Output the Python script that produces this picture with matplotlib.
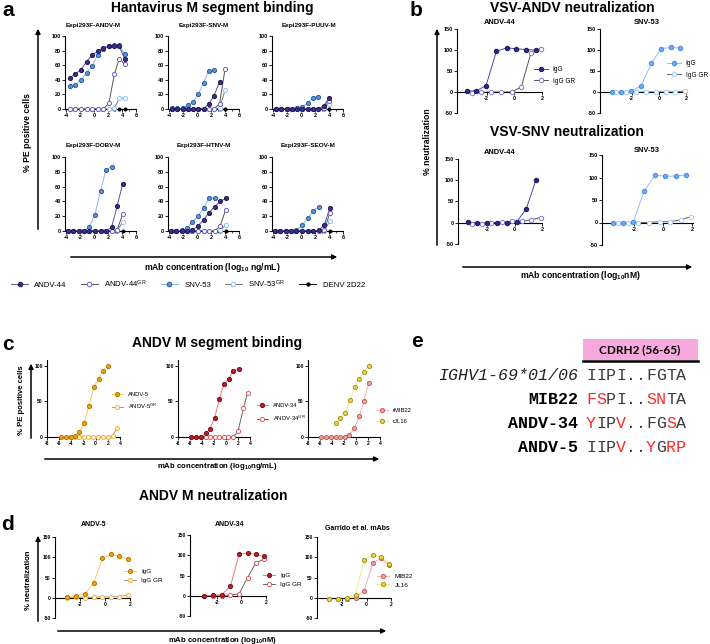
import matplotlib
matplotlib.use('Agg')
import matplotlib.pyplot as plt
from matplotlib.lines import Line2D
from matplotlib.patches import Rectangle, FancyArrowPatch

plt.rcParams['font.family'] = ['Liberation Sans', 'DejaVu Sans']
plt.rcParams['mathtext.default'] = 'regular'
plt.rcParams['axes.unicode_minus'] = False

# ---------------- data ----------------
# a: binding to Expi293F cells, x = log10 ng/mL
a_x1 = [-3.5, -2.7, -1.9, -1.1, -0.3, 0.5, 1.3, 2.1, 2.9, 3.6, 4.4]
a_x2 = [-3.6, -2.85, -2.1, -1.35, -0.6, 0.15, 0.9, 1.65, 2.4, 3.2, 4.0]
a_x3 = [-3.8, -3.0, -2.2, -1.45, -0.7, 0.1, 0.9, 1.7, 2.5, 3.3, 4.1]

andvm_a44 = [43, 48, 54, 65, 74, 79, 84, 86, 86, 86, 68]
andvm_a44gr = [0, 0, 0, 0, 0, 0, 0, 8, 48, 69, 61]
andvm_s53 = [31, 33, 40, 49, 59, 74, 82, 86, 87, 87, 75]
andvm_s53gr = [0, 0, 0, 0, 0, 0, 0, 0, 1, 15, 15]
andvm_denv = [0, 0, 0, 0, 0, 0, 0, 0, 0, 0, 0]

snvm_a44 = [0, 0, 0, 0, 0, 0, 0, 7, 18, 37]
snvm_a44gr = [0, 0, 0, 0, 0, 0, 0, 0, 0, 7, 55]
snvm_s53 = [1, 1, 1, 5, 10, 20, 36, 52, 54]
snvm_s53gr = [0, 0, 0, 0, 0, 0, 0, 0, 0, 1, 26]
snvm_denv = [0, 0, 0, 0, 0, 0, 0, 0, 0, 0, 0]

puuvm_a44 = [0, 0, 0, 0, 0, 0, 0, 0, 0, 4, 15]
puuvm_a44gr = [0, 0, 0, 0, 0, 0, 0, 0, 0, 2, 11]
puuvm_s53 = [0, 0, 0, 0, 1, 3, 8, 15, 17]
puuvm_s53gr = [0, 0, 0, 0, 0, 0, 0, 0, 0, 1, 7]
puuvm_denv = [0, 0, 0, 0, 0, 0, 0, 0, 0, 0, 0]

dobvm_a44 = [0, 0, 0, 0, 0, 0, 0, 0, 5, 34, 64]
dobvm_a44gr = [0, 0, 0, 0, 0, 0, 0, 0, 0, 2, 23]
dobvm_s53 = [0, 0, 0, 0, 6, 22, 54, 83, 87]
dobvm_s53gr = [0, 0, 0, 0, 0, 0, 0, 0, 0, 1, 12]
dobvm_denv = [0, 0, 0, 0, 0, 0, 0, 0, 0, 0, 0]

htnvm_a44 = [0, 0, 0, 0, 1, 7, 15, 25, 33, 40, 44]
htnvm_a44gr = [0, 0, 0, 0, 0, 0, 0, 0, 0, 7, 29]
htnvm_s53 = [0, 0, 1, 4, 12, 20, 31, 45, 45]
htnvm_s53gr = [0, 0, 0, 0, 0, 0, 0, 0, 0, 1, 8]
htnvm_denv = [0, 0, 0, 0, 0, 0, 0, 0, 0, 0, 0]

seovm_a44 = [0, 0, 0, 0, 0, 0, 0, 0, 1, 8, 31]
seovm_a44gr = [0, 0, 0, 0, 0, 0, 0, 0, 0, 1, 24]
seovm_s53 = [0, 0, 0, 0, 1, 8, 17, 27, 33]
seovm_s53gr = [0, 0, 0, 0, 0, 0, 0, 0, 0, 1, 13]
seovm_denv = [0, 0, 0, 0, 0, 0, 0, 0, 0, 0, 0]

a_titles = ['Expi293F-ANDV-M', 'Expi293F-SNV-M', 'Expi293F-PUUV-M',
            'Expi293F-DOBV-M', 'Expi293F-HTNV-M', 'Expi293F-SEOV-M']
a_names = ['ANDV-44', 'ANDV-44$^{GR}$', 'SNV-53', 'SNV-53$^{GR}$', 'DENV 2D22']

# b: VSV neutralization, x = log10 nM
b_x = [-3.45, -2.75, -2.05, -1.3, -0.55, 0.15, 0.85, 1.55]
b_xgr = [-3.1, -2.4, -1.7, -0.95, -0.2, 0.5, 1.2, 1.9]
vandv_a44_igg = [2, 3, 15, 97, 105, 103, 101, 100]
vandv_a44_gr = [-2, -1, 0, 0, 0, 12, 93, 103]
vandv_s53_igg = [-1, 0, 2, 15, 68, 103, 106, 105]
vandv_s53_gr = [0, 0, -1, 0, 0, 0, 0, 3]
vsnv_a44_igg = [2, -1, -1, -1, -1, 2, 33, 100]
vsnv_a44_gr = [-2, -2, 0, 2, 3, 3, 7, 12]
vsnv_s53_igg = [0, -2, 1, 70, 105, 103, 103, 106]
vsnv_s53_gr = [-2, -1, 0, 0, 2, 2, 6, 13]

# c: ANDV M binding, x = log10 ng/mL
c_a5_x = [-5.7, -4.9, -4.1, -3.4, -2.7, -1.9, -1.1, -0.3, 0.5, 1.2, 2.0]
c_a5 = [0, 0, 0, 2, 7, 20, 44, 70, 82, 93, 99]
c_a5gr_x = [-4.2, -3.4, -2.7, -1.9, -1.2, -0.4, 0.4, 1.2, 2.0, 2.8, 3.5]
c_a5gr = [0, 0, 0, 0, 0, 0, 0, 0, 0, 2, 13]
c_a34_x = [-5.9, -5.0, -4.2, -3.4, -2.7, -1.9, -1.1, -0.4, 0.5, 1.2, 2.1]
c_a34 = [0, 0, 0, 5, 11, 27, 53, 74, 82, 93, 95]
c_a34gr_x = [-4.2, -3.4, -2.7, -1.9, -1.1, -0.4, 0.4, 1.2, 2.0, 2.9, 3.6]
c_a34gr = [0, 0, 0, 0, 0, 0, 0, 0, 8, 40, 62]
c_jl16_x = [-3.4, -2.6, -1.85, -1.0, -0.2, 0.55, 1.3, 2.1]
c_jl16 = [20, 27, 34, 52, 70, 82, 91, 100]
c_mib22_x = [-5.9, -5.0, -4.2, -3.4, -2.6, -1.85, -1.1, -0.3, 0.55, 1.3, 2.1]
c_mib22 = [0, 0, 0, 0, 0, 0, 3, 12, 29, 50, 76]

# d: ANDV M neutralization, x = log10 nM
d_x = [-3.05, -2.3, -1.6, -0.9, -0.2, 0.5, 1.15, 1.85]
d_a5_igg = [1, 4, 10, 37, 98, 107, 102, 95]
d_a5_gr = [0, 3, 0, 2, 2, 2, 3, 7]
d_a34_igg = [0, 1, 3, 24, 102, 106, 102, 97]
d_a34_gr = [0, 0, 0, 2, 4, 45, 80, 91]
d_jl16 = [-2, -2, 0, 8, 94, 106, 101, 84]
d_mib22 = [-3, -3, -2, -1, 17, 85, 97, 80]

# e: CDRH2 alignment
seq_names = ['IGHV1-69*01/06', 'MIB22', 'ANDV-34', 'ANDV-5']
seq_text = ['IIPI..FGTA', 'FSPI..SNTA', 'YIPV..FGSA', 'IIPV..YGRP']
seq_mut = ['0000000000', '1100001100', '1001000010', '0001001011']

# ---------------- styles ----------------
S_A44 = dict(fc='#3b2f80', ec='#231a5c', lc='#5c4fa3', op=False)
S_A44GR = dict(fc='white', ec='#6e62bb', lc='#555555', op=True)
S_S53 = dict(fc='#5a93de', ec='#2f5e9e', lc='#8ab8ee', op=False)
S_S53GR = dict(fc='white', ec='#92c0f5', lc='#777777', op=True)
S_DENV = dict(fc='black', ec='black', lc='black', op=False)
S_BA44 = dict(fc='#2c2a80', ec='#1c1a60', lc='#4d48a3', op=False)
S_BA44GR = dict(fc='white', ec='#8279c8', lc='#555555', op=True)
S_BS53 = dict(fc='#6aaaf6', ec='#4a8ce0', lc='#8cc0f8', op=False)
S_BS53GR = dict(fc='white', ec='#a0ccf8', lc='#666666', op=True)
S_A5 = dict(fc='#e8a41c', ec='#b47800', lc='#f8c860', op=False)
S_A5GR = dict(fc='#fff6de', ec='#f6b440', lc='#999999', op=True)
S_A34 = dict(fc='#b5202e', ec='#801018', lc='#f07a7a', op=False)
S_A34GR = dict(fc='white', ec='#e05a5a', lc='#666666', op=True)
S_JL16 = dict(fc='#e8d448', ec='#a89418', lc='#f8e58a', op=False)
S_MIB22 = dict(fc='#eba4a0', ec='#c8605c', lc='#f5b0b0', op=False)

W, H = 710, 644
fig = plt.figure(figsize=(W / 100, H / 100), dpi=100)


def px_axes(x0, y0, x1, y1):
    return fig.add_axes([x0 / W, 1 - y1 / H, (x1 - x0) / W, (y1 - y0) / H])


def ftext(x, y, s, **kw):
    kw.setdefault('ha', 'center')
    kw.setdefault('va', 'center')
    fig.text(x / W, 1 - y / H, s, **kw)


def arrow(x0, y0, x1, y1):
    fig.add_artist(FancyArrowPatch((x0 / W, 1 - y0 / H), (x1 / W, 1 - y1 / H),
                                   transform=fig.transFigure, arrowstyle='-|>',
                                   mutation_scale=7, lw=1.1, color='black'))


def series(ax, x, y, st, ms=3.2):
    ax.plot(x, y, color=st['lc'], lw=0.7, zorder=2, clip_on=False)
    ax.plot(x, y, ls='none', marker='o', ms=ms, mfc=st['fc'], mec=st['ec'],
            mew=0.7, zorder=3, clip_on=False)


def handle(st, ms=3.2):
    return Line2D([0], [0], color=st['lc'], lw=0.7, marker='o', ms=ms,
                  mfc=st['fc'], mec=st['ec'], mew=0.7)


def style(ax, xlim, ylim, xticks, yticks, fs, zero=False, xminor=None):
    ax.set_xlim(*xlim)
    ax.set_ylim(*ylim)
    ax.patch.set_alpha(0)
    for s in ['top', 'right']:
        ax.spines[s].set_visible(False)
    for s in ['left', 'bottom']:
        ax.spines[s].set_linewidth(0.8)
    if zero:
        ax.spines['bottom'].set_position(('data', 0))
    ax.set_xticks(xticks)
    ax.set_yticks(yticks)
    if xminor is not None:
        ax.set_xticks(xminor, minor=True)
    ax.tick_params(labelsize=fs, length=2, width=0.6, pad=1)
    ax.tick_params(which='minor', length=1.5, width=0.5)
    for lab in ax.get_xticklabels() + ax.get_yticklabels():
        lab.set_fontweight('bold')


# ---------------- panel a ----------------
a_panels = [
    (a_x1, [andvm_a44, andvm_a44gr, andvm_s53, andvm_s53gr, andvm_denv]),
    (a_x2, [snvm_a44, snvm_a44gr, snvm_s53, snvm_s53gr, snvm_denv]),
    (a_x2, [puuvm_a44, puuvm_a44gr, puuvm_s53, puuvm_s53gr, puuvm_denv]),
    (a_x3, [dobvm_a44, dobvm_a44gr, dobvm_s53, dobvm_s53gr, dobvm_denv]),
    (a_x3, [htnvm_a44, htnvm_a44gr, htnvm_s53, htnvm_s53gr, htnvm_denv]),
    (a_x3, [seovm_a44, seovm_a44gr, seovm_s53, seovm_s53gr, seovm_denv]),
]
a_styles = [S_A44, S_A44GR, S_S53, S_S53GR, S_DENV]
a_cols = [(65, 136), (168, 239), (272, 343)]
a_rows = [(36, 109), (157, 231)]
a_title_pos = [(93, 25), (204, 25), (309, 25), (93, 146), (204, 146), (308, 146)]

for i, (xs, ys) in enumerate(a_panels):
    c0, c1 = a_cols[i % 3]
    r0, r1 = a_rows[i // 3]
    ax = px_axes(c0, r0, c1, r1)
    order = [4, 3, 1, 2, 0]
    for k in order:
        y = ys[k]
        ms = 2.2 if k == 4 else 3.0
        series(ax, xs[:len(y)], y, a_styles[k], ms=ms)
    style(ax, (-4.2, 6), (0, 100), [-4, -2, 0, 2, 4, 6], [0, 20, 40, 60, 80, 100], 4,
          xminor=[-3, -1, 1, 3, 5])
    ftext(*a_title_pos[i], a_titles[i], fontsize=4.6, fontweight='bold')

ftext(8, 10, 'a', fontsize=15, fontweight='bold')
ftext(212, 8, 'Hantavirus M segment binding', fontsize=10, fontweight='bold')
arrow(38, 232, 38, 26)
ftext(28, 133, '% PE positive cells', fontsize=6.2, fontweight='bold', rotation=90)
arrow(68, 257, 340, 257)
ftext(212, 268, 'mAb concentration (log$_{10}$ ng/mL)', fontsize=6.2, fontweight='bold')
fig.legend([handle(s, 3.3 if s is not S_DENV else 2.4) for s in a_styles], a_names,
           loc='center', bbox_to_anchor=(188 / W, 1 - 284 / H), ncol=5, frameon=False,
           fontsize=5.6, handlelength=2.2, handletextpad=0.8, columnspacing=1.8,
           borderpad=0)

# ---------------- panel b ----------------
b_boxes = [(457, 29, 542, 113), (600, 29, 687, 113), (458, 159, 542, 244), (602, 155, 693, 245)]
b_xlims = [(-4.15, 2), (-4.3, 2.05), (-4.15, 2), (-4.2, 2.05)]
b_data = [(vandv_a44_igg, vandv_a44_gr, S_BA44, S_BA44GR),
          (vandv_s53_igg, vandv_s53_gr, S_BS53, S_BS53GR),
          (vsnv_a44_igg, vsnv_a44_gr, S_BA44, S_BA44GR),
          (vsnv_s53_igg, vsnv_s53_gr, S_BS53, S_BS53GR)]
b_titles = [('ANDV-44', 500, 23), ('SNV-53', 647, 23), ('ANDV-44', 500, 153), ('SNV-53', 647, 150)]
for i in range(4):
    ax = px_axes(*b_boxes[i])
    igg, gr, s1, s2 = b_data[i]
    series(ax, b_xgr, gr, s2)
    series(ax, b_x, igg, s1)
    style(ax, b_xlims[i], (-50, 150), [-2, 0, 2], [-50, 0, 50, 100, 150], 4, zero=True)
    t, tx, ty = b_titles[i]
    ftext(tx, ty, t, fontsize=5.4, fontweight='bold')
    if i < 2:
        lx, ly = [(531, 75.5), (664, 69.5)][i]
        ax.legend([handle(s1), handle(s2)], ['IgG', 'IgG GR'], loc='center left',
                  bbox_to_anchor=(lx / W, 1 - ly / H), bbox_transform=fig.transFigure,
                  frameon=False, fontsize=4.7, handlelength=2.1, handletextpad=0.7,
                  labelspacing=0.7, borderpad=0)

ftext(416, 10, 'b', fontsize=15, fontweight='bold')
ftext(572, 8, 'VSV-ANDV neutralization', fontsize=10, fontweight='bold')
ftext(567, 132, 'VSV-SNV neutralization', fontsize=10, fontweight='bold')
arrow(437, 248, 437, 26)
ftext(427, 142, '% neutralization', fontsize=6.2, fontweight='bold', rotation=90)
arrow(460, 267, 695, 267)
ftext(580, 276, 'mAb concentration (log$_{10}$nM)', fontsize=6.2, fontweight='bold')

# ---------------- panel c ----------------
c_cols = [(47, 120), (178, 250), (308, 380)]
c_sets = [[(c_a5gr_x, c_a5gr, S_A5GR), (c_a5_x, c_a5, S_A5)],
          [(c_a34gr_x, c_a34gr, S_A34GR), (c_a34_x, c_a34, S_A34)],
          [(c_jl16_x, c_jl16, S_JL16), (c_mib22_x, c_mib22, S_MIB22)]]
c_leg = [(['ANDV-5', 'ANDV-5$^{GR}$'], [S_A5, S_A5GR], (109, 401.5)),
         (['ANDV-34', 'ANDV-34$^{GR}$'], [S_A34, S_A34GR], (254, 413)),
         (['rMIB22', 'rJL16'], [S_MIB22, S_JL16], (374, 416))]
for i in range(3):
    ax = px_axes(c_cols[i][0], 360, c_cols[i][1], 437)
    for xs, ys, st in c_sets[i]:
        series(ax, xs, ys, st, ms=3.0)
    style(ax, (-8, 4), (0, 108), [-8, -6, -4, -2, 0, 2, 4], [0, 50, 100], 3.6)
    labs, sts, (lx, ly) = c_leg[i]
    ax.legend([handle(s, 3.0) for s in sts], labs, loc='center left',
              bbox_to_anchor=(lx / W, 1 - ly / H), bbox_transform=fig.transFigure,
              frameon=False, fontsize=4.2, handlelength=1.9, handletextpad=0.8,
              labelspacing=0.9, borderpad=0)

ftext(8, 344, 'c', fontsize=15, fontweight='bold')
ftext(217, 343, 'ANDV M segment binding', fontsize=10, fontweight='bold')
arrow(31, 441, 31, 361)
ftext(22, 400, '% PE positive cells', fontsize=5.6, fontweight='bold', rotation=90)
arrow(42, 459, 382, 459)
ftext(217, 467, 'mAb concentration (log$_{10}$ng/mL)', fontsize=5.6, fontweight='bold')

# ---------------- panel d ----------------
d_boxes = [(55, 537, 130, 618), (190, 535, 266, 616), (317, 537, 391, 618)]
d_xlims = [(-4, 2), (-4.2, 2), (-4.05, 2)]
d_sets = [[(d_a5_gr, S_A5GR), (d_a5_igg, S_A5)],
          [(d_a34_gr, S_A34GR), (d_a34_igg, S_A34)],
          [(d_mib22, S_MIB22), (d_jl16, S_JL16)]]
d_leg = [(['IgG', 'IgG GR'], [S_A5, S_A5GR], (121, 576)),
         (['IgG', 'IgG GR'], [S_A34, S_A34GR], (260, 580)),
         (['MIB22', 'JL16'], [S_MIB22, S_JL16], (374, 580.5))]
d_titles = [('ANDV-5', 94, 524), ('ANDV-34', 230, 524), ('Garrido et al. mAbs', 357, 529)]
for i in range(3):
    ax = px_axes(*d_boxes[i])
    for ys, st in d_sets[i]:
        series(ax, d_x, ys, st, ms=3.0)
    style(ax, d_xlims[i], (-50, 150), [-2, 0, 2], [-50, 0, 50, 100, 150], 3.6, zero=True)
    labs, sts, (lx, ly) = d_leg[i]
    ax.legend([handle(s, 3.0) for s in sts], labs, loc='center left',
              bbox_to_anchor=(lx / W, 1 - ly / H), bbox_transform=fig.transFigure,
              frameon=False, fontsize=4.6, handlelength=1.9, handletextpad=0.8,
              labelspacing=0.55, borderpad=0)
    t, tx, ty = d_titles[i]
    ftext(tx, ty, t, fontsize=5, fontweight='bold')

ftext(8, 525, 'd', fontsize=15, fontweight='bold')
ftext(213, 496, 'ANDV M neutralization', fontsize=10, fontweight='bold')
arrow(38, 624, 38, 533)
ftext(29, 580, '% neutralization', fontsize=5.6, fontweight='bold', rotation=90)
arrow(55, 631, 389, 631)
ftext(222, 640, 'mAb concentration (log$_{10}$nM)', fontsize=5.6, fontweight='bold')

# ---------------- panel e ----------------
ftext(417, 342, 'e', fontsize=15, fontweight='bold')
fig.add_artist(Rectangle((583 / W, 1 - 360 / H), 115 / W, 21 / H, transform=fig.transFigure,
                         facecolor='#f7a8dd', edgecolor='none'))
fig.add_artist(Line2D([583 / W, 698 / W], [1 - 361 / H, 1 - 361 / H], transform=fig.transFigure,
                      color='black', lw=1.8))
ftext(640, 349.5, 'CDRH2 (56-65)', fontsize=8.5, fontweight='bold', family='Lato')

mono_fs = 12
adv = 0.6 * mono_fs * 100 / 72
row_y = [376, 399, 424, 448]
for r in range(4):
    if r == 0:
        ftext(578, row_y[r], seq_names[r], ha='right', family='Liberation Mono',
              fontsize=mono_fs, style='italic', color='#222222')
    else:
        ftext(578, row_y[r], seq_names[r], ha='right', family='Liberation Mono',
              fontsize=mono_fs, fontweight='bold', color='black')
    for j, ch in enumerate(seq_text[r]):
        col = '#ff2a2a' if seq_mut[r][j] == '1' else '#3a3a3a'
        ftext(586 + j * adv, row_y[r], ch, ha='left', family='Liberation Mono',
              fontsize=mono_fs, color=col)

fig.savefig('out.png', dpi=100)
